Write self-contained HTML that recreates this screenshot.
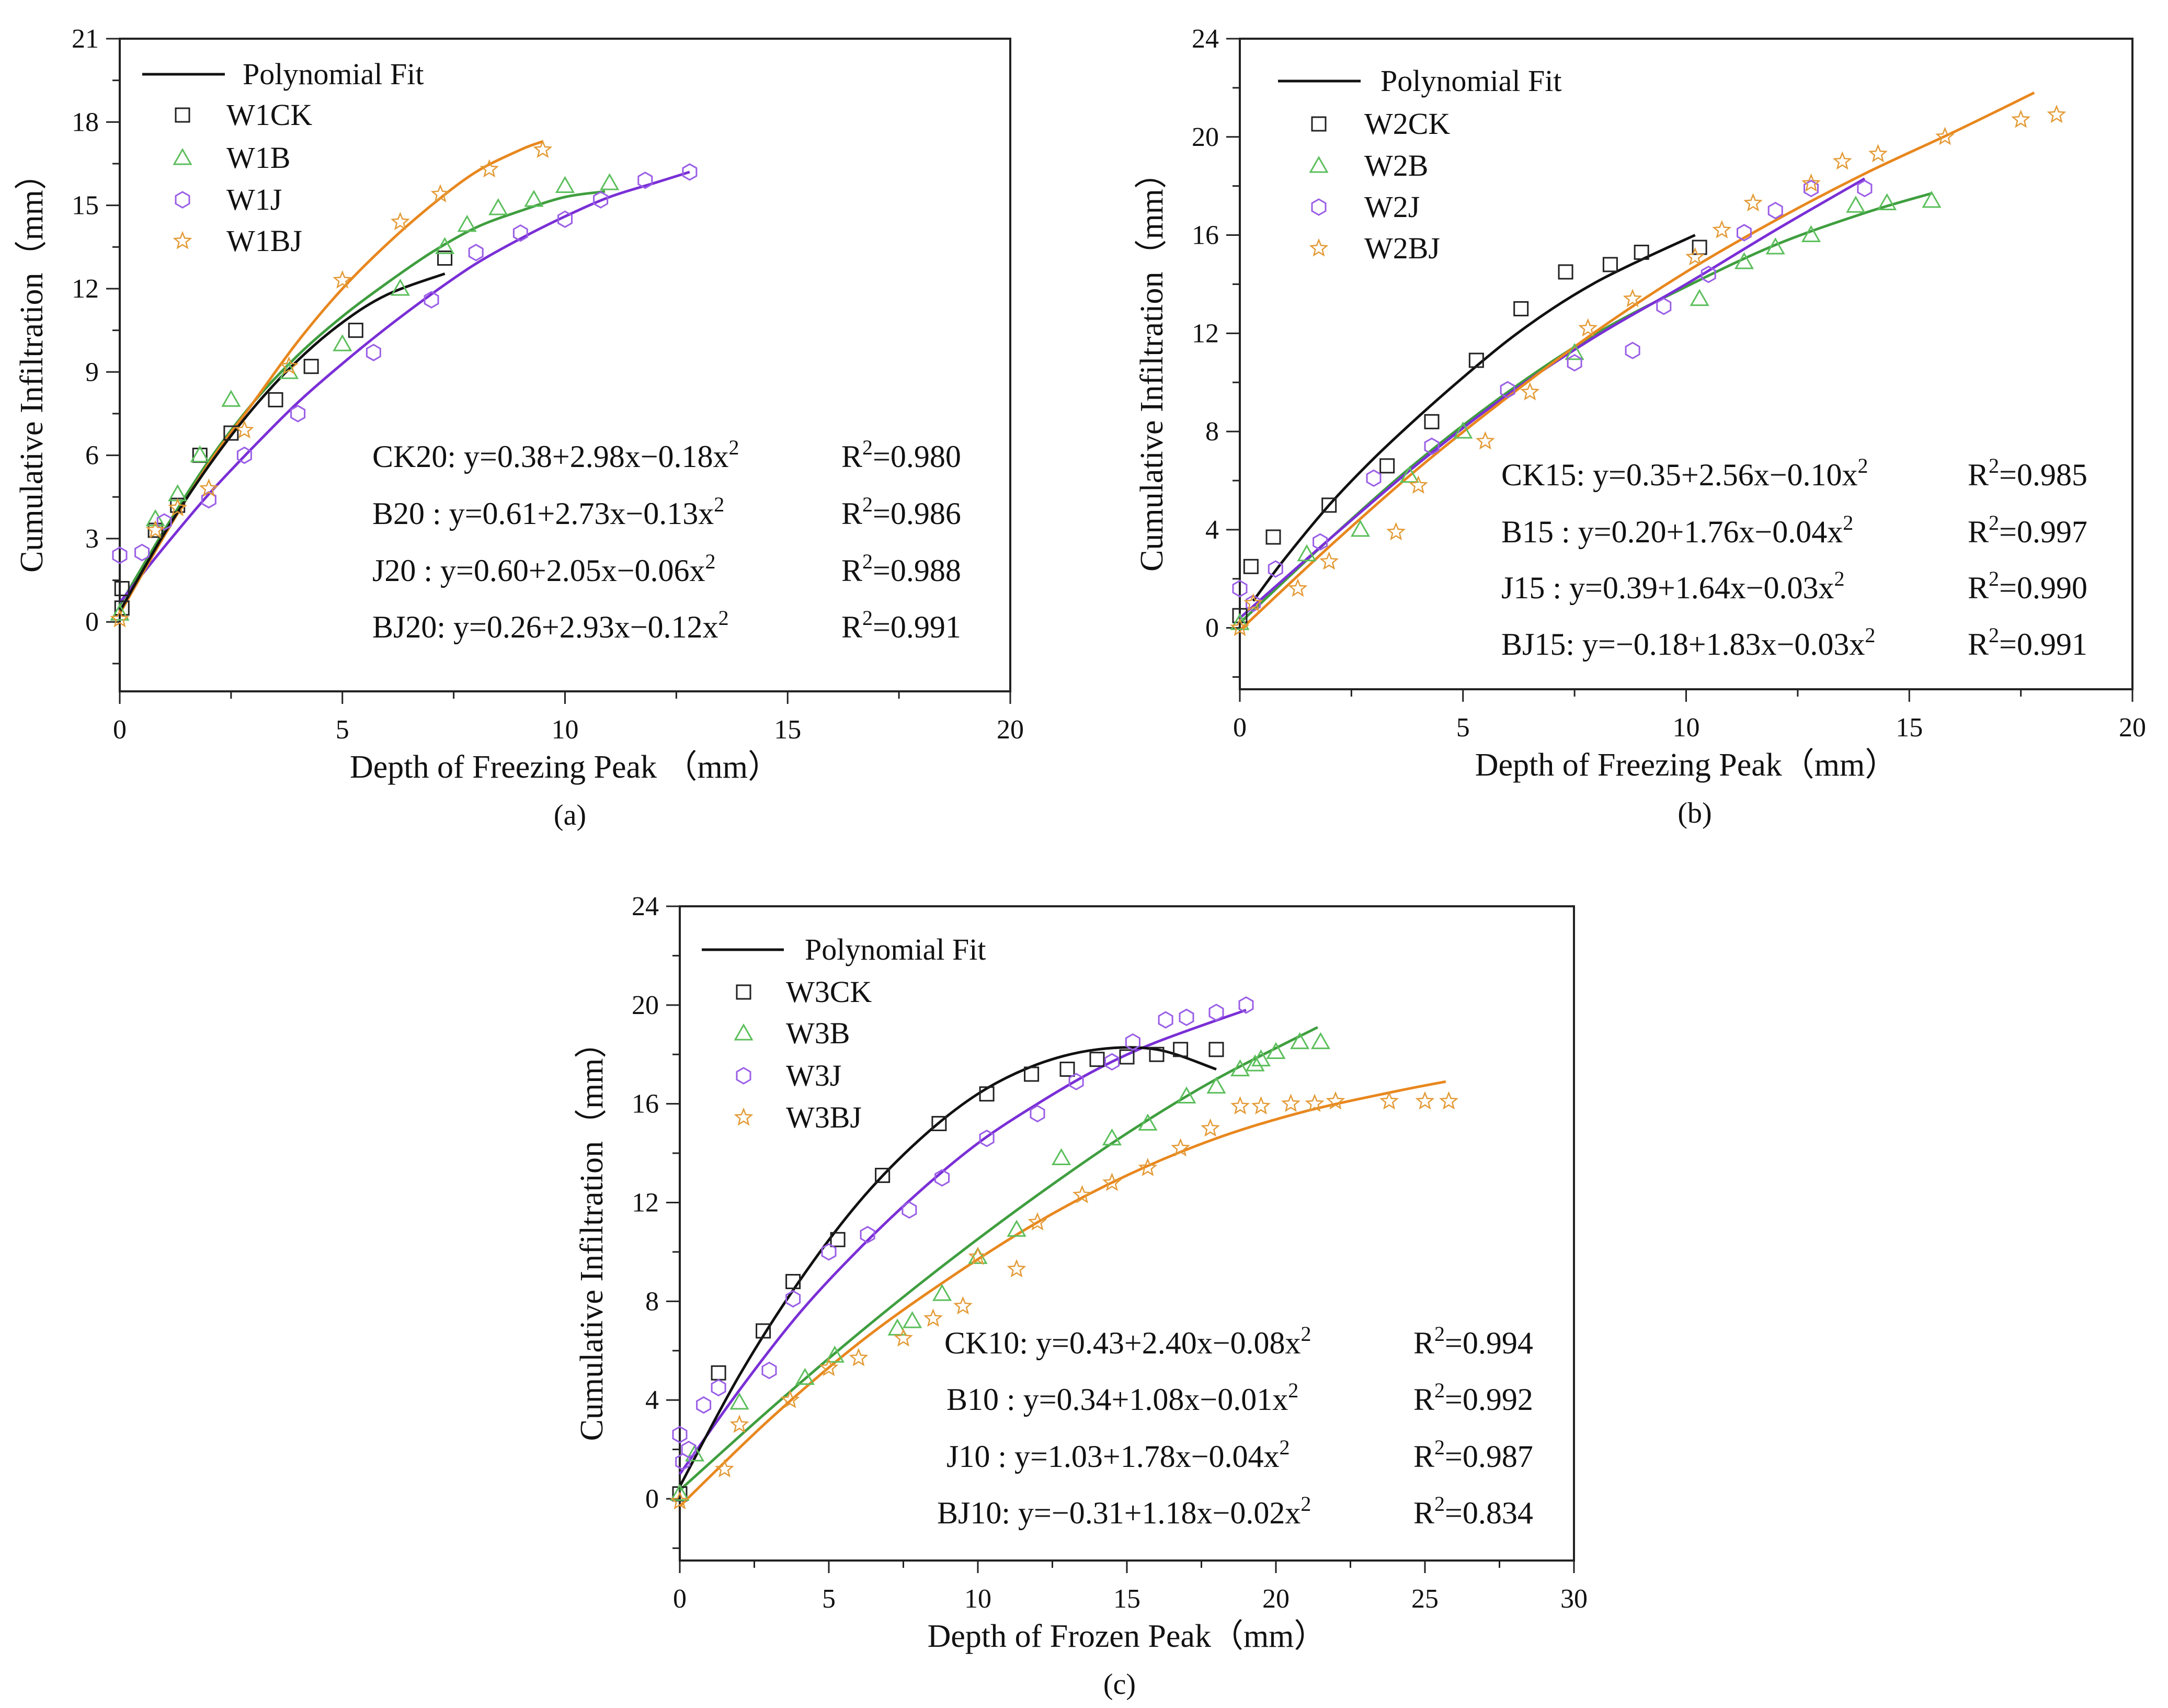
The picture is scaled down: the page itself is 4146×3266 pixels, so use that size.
<!DOCTYPE html>
<html><head><meta charset="utf-8"><style>
html,body{margin:0;padding:0;background:#fff}
svg{display:block}
text{font-family:"Liberation Serif",serif;fill:#111}
</style></head><body>
<svg id="fig" width="4146" height="3266" viewBox="0 0 4146 3266" xmlns="http://www.w3.org/2000/svg">
<rect width="4146" height="3266" fill="#fff"/>
</svg>
<script>
// ===== Panel (a) data =====
const aCK_x=[0.05,0.05,0.8,1.3,1.8,2.5,3.5,4.3,5.3,7.3];
const aCK_y=[0.5,1.2,3.3,4.2,6.0,6.8,8.0,9.2,10.5,13.1];
const aB_x=[0,0.8,1.3,1.8,2.5,3.8,5,6.3,7.3,7.8,8.5,9.3,10,11];
const aB_y=[0.3,3.7,4.6,6.0,8.0,9.0,10.0,12.0,13.5,14.3,14.9,15.2,15.7,15.8];
const aJ_x=[0,0.5,1,2,2.8,4,5.7,7,8,9,10,10.8,11.8,12.8];
const aJ_y=[2.4,2.5,3.6,4.4,6.0,7.5,9.7,11.6,13.3,14.0,14.5,15.2,15.9,16.2];
const aBJ_x=[0,0.8,1.3,2,2.8,3.8,5,6.3,7.2,8.3,9.5];
const aBJ_y=[0.1,3.3,4.1,4.8,6.9,9.2,12.3,14.4,15.4,16.3,17.0];
const aFitCK_x=[0,1,2,3,4,5,6,7.3];
const aFitCK_y=[0.38,3.18,5.62,7.7,9.42,10.78,11.78,12.54];
const aFitB_x=[0,1,2,3,4,5,6,7,8,9,10,10.9];
const aFitB_y=[0.6,3.3,5.8,7.9,9.6,11.0,12.2,13.3,14.2,14.8,15.3,15.5];
const aFitJ_x=[0,1,2,3,4,5,6,7,8,9,10,11,12,12.8];
const aFitJ_y=[0.7,2.7,4.6,6.3,7.9,9.3,10.6,11.8,12.9,13.8,14.6,15.3,15.8,16.2];
const aFitBJ_x=[0,1,2,3,4,5,6,7,8,9,9.5];
const aFitBJ_y=[0.3,3.1,5.7,7.9,10.1,12.0,13.6,15.0,16.2,17.0,17.3];
const aXTicks=[0,5,10,15,20];
const aYTicks=[0,3,6,9,12,15,18,21];
const aLegend=["Polynomial Fit","W1CK","W1B","W1J","W1BJ"];
const aEqs=["CK20: y=0.38+2.98x\u22120.18x","B20 : y=0.61+2.73x\u22120.13x","J20 :  y=0.60+2.05x\u22120.06x","BJ20: y=0.26+2.93x\u22120.12x"];
const aR2=["=0.980","=0.986","=0.988","=0.991"];

// ===== Panel (b) data =====
const bCK_x=[0,0.25,0.75,2,3.3,4.3,5.3,6.3,7.3,8.3,9,10.3];
const bCK_y=[0.5,2.5,3.7,5.0,6.6,8.4,10.9,13.0,14.5,14.8,15.3,15.5];
const bB_x=[0,1.5,2.7,3.8,5,7.5,10.3,11.3,12,12.8,13.8,14.5,15.5];
const bB_y=[0.2,3.0,4.0,6.2,8.0,11.2,13.4,14.9,15.5,16.0,17.2,17.3,17.4];
const bJ_x=[0,0.3,0.8,1.8,3,4.3,6,7.5,8.8,9.5,10.5,11.3,12,12.8,14];
const bJ_y=[1.6,1.0,2.4,3.5,6.1,7.4,9.7,10.8,11.3,13.1,14.4,16.1,17.0,17.9,17.9];
const bBJ_x=[0,0.3,1.3,2,3.5,4,5.5,6.5,7.8,8.8,10.2,10.8,11.5,12.8,13.5,14.3,15.8,17.5,18.3];
const bBJ_y=[0,1.0,1.6,2.7,3.9,5.8,7.6,9.6,12.2,13.4,15.1,16.2,17.3,18.1,19.0,19.3,20.0,20.7,20.9];
const bFitCK_x=[0.3,1,2,3,4,5,6,7,8,9,10.2];
const bFitCK_y=[1.1,2.8,5.0,6.9,8.6,10.2,11.7,13.0,14.1,15.0,16.0];
const bFitB_x=[0,2,4,6,8,10,12,14,15.5];
const bFitB_y=[0.2,3.6,6.8,9.6,12.0,13.9,15.6,16.9,17.7];
const bFitJ_x=[0,2,4,6,8,10,12,14];
const bFitJ_y=[0.4,3.6,6.7,9.5,11.9,14.0,16.2,18.3];
const bFitBJ_x=[0,2,4,6,8,10,12,14,16,17.8];
const bFitBJ_y=[-0.1,3.3,6.5,9.4,12.1,14.5,16.6,18.5,20.2,21.8];
const bXTicks=[0,5,10,15,20];
const bYTicks=[0,4,8,12,16,20,24];
const bLegend=["Polynomial Fit","W2CK","W2B","W2J","W2BJ"];
const bEqs=["CK15: y=0.35+2.56x\u22120.10x","B15 : y=0.20+1.76x\u22120.04x","J15 :  y=0.39+1.64x\u22120.03x","BJ15: y=\u22120.18+1.83x\u22120.03x"];
const bR2=["=0.985","=0.997","=0.990","=0.991"];

// ===== Panel (c) data =====
const cCK_x=[0,1.3,2.8,3.8,5.3,6.8,8.7,10.3,11.8,13,14,15,16,16.8,18];
const cCK_y=[0.2,5.1,6.8,8.8,10.5,13.1,15.2,16.4,17.2,17.4,17.8,17.9,18.0,18.2,18.2];
const cB_x=[0,0.5,2,4.2,5.2,7.3,7.8,8.8,10,11.3,12.8,14.5,15.7,17,18,18.8,19.3,19.5,20,20.8,21.5];
const cB_y=[0.2,1.8,3.9,4.9,5.8,6.9,7.2,8.3,9.8,10.9,13.8,14.6,15.2,16.3,16.7,17.4,17.6,17.8,18.1,18.5,18.5];
const cJ_x=[0,0.1,0.3,0.8,1.3,3,3.8,5,6.3,7.7,8.8,10.3,12,13.3,14.5,15.2,16.3,17,18,19];
const cJ_y=[2.6,1.5,2.0,3.8,4.5,5.2,8.1,10.0,10.7,11.7,13.0,14.6,15.6,16.9,17.7,18.5,19.4,19.5,19.7,20.0];
const cBJ_x=[0,1.5,2,3.7,5,6,7.5,8.5,9.5,10,11.3,12,13.5,14.5,15.7,16.8,17.8,18.8,19.5,20.5,21.3,22,23.8,25,25.8];
const cBJ_y=[-0.1,1.2,3.0,4.0,5.3,5.7,6.5,7.3,7.8,9.8,9.3,11.2,12.3,12.8,13.4,14.2,15.0,15.9,15.9,16.0,16.0,16.1,16.1,16.1,16.1];
const cFitCK_x=[0,2,4,6,8,10,12,14,16,18];
const cFitCK_y=[0.5,5.0,8.8,12.0,14.5,16.4,17.6,18.2,18.2,17.4];
const cFitB_x=[0,3,6,9,12,15,18,21.4];
const cFitB_y=[0.35,3.6,6.7,9.6,12.3,14.8,17.0,19.1];
const cFitJ_x=[0,2,4,6,8,10,12,14,16,19];
const cFitJ_y=[1.0,4.4,7.5,10.1,12.4,14.4,16.0,17.4,18.5,19.8];
const cFitBJ_x=[0,3,6,9,12,15,18,21,24,25.7];
const cFitBJ_y=[-0.3,3.2,6.3,8.9,11.2,13.1,14.6,15.7,16.5,16.9];
const cXTicks=[0,5,10,15,20,25,30];
const cYTicks=[0,4,8,12,16,20,24];
const cLegend=["Polynomial Fit","W3CK","W3B","W3J","W3BJ"];
const cEqs=["CK10: y=0.43+2.40x\u22120.08x","B10 : y=0.34+1.08x\u22120.01x","J10 : y=1.03+1.78x\u22120.04x","BJ10: y=\u22120.31+1.18x\u22120.02x"];
const cR2=["=0.994","=0.992","=0.987","=0.834"];

const NS="http://www.w3.org/2000/svg";
const svg=document.getElementById('fig');
const LINE={ck:"#111",b:"#3f9e3f",j:"#7a2fd6",bj:"#e8871e"};
const MK={ck:"#222",b:"#5cbf5c",j:"#9a5ee6",bj:"#e39a35"};
function mk(tag,attrs,parent){const e=document.createElementNS(NS,tag);for(const k in attrs)e.setAttribute(k,attrs[k]);(parent||svg).appendChild(e);return e;}

function smoothPath(P){
  let d='M'+P[0][0].toFixed(1)+','+P[0][1].toFixed(1);
  for(let i=0;i<P.length-1;i++){
    const p0=P[Math.max(0,i-1)],p1=P[i],p2=P[i+1],p3=P[Math.min(P.length-1,i+2)];
    const c1x=p1[0]+(p2[0]-p0[0])/6,c1y=p1[1]+(p2[1]-p0[1])/6;
    const c2x=p2[0]-(p3[0]-p1[0])/6,c2y=p2[1]-(p3[1]-p1[1])/6;
    d+=` C${c1x.toFixed(1)},${c1y.toFixed(1)} ${c2x.toFixed(1)},${c2y.toFixed(1)} ${p2[0].toFixed(1)},${p2[1].toFixed(1)}`;
  }
  return d;
}

function marker(g,type,cx,cy){
  let e;
  const s=13;
  if(type==='ck'){e=mk('rect',{x:cx-s,y:cy-s,width:2*s,height:2*s,fill:'none',stroke:MK.ck,'stroke-width':3},g);}
  else if(type==='b'){e=mk('polygon',{points:`${cx},${cy-16} ${cx+16},${cy+12} ${cx-16},${cy+12}`,fill:'none',stroke:MK.b,'stroke-width':3},g);}
  else if(type==='j'){let p=[];for(let i=0;i<6;i++){const a=Math.PI/6+i*Math.PI/3;p.push((cx+15*Math.cos(a)).toFixed(1)+','+(cy+15*Math.sin(a)).toFixed(1));}
    e=mk('polygon',{points:p.join(' '),fill:'none',stroke:MK.j,'stroke-width':3},g);}
  else {let p=[];for(let i=0;i<10;i++){const r=i%2?7:16;const a=-Math.PI/2+i*Math.PI/5;p.push((cx+r*Math.cos(a)).toFixed(1)+','+(cy+r*Math.sin(a)).toFixed(1));}
    e=mk('polygon',{points:p.join(' '),fill:'none',stroke:MK.bj,'stroke-width':2.5},g);}
  return e;
}

function panel(cfg){
  const g=mk('g',{});
  
  
  const {L,R,T,B,xmin,xmax,ymin,ymax}=cfg;
  const sx=v=>L+(v-xmin)/(xmax-xmin)*(R-L);
  const sy=v=>B-(v-ymin)/(ymax-ymin)*(B-T);
  const frame=mk('rect',{x:L,y:T,width:R-L,height:B-T,fill:'none',stroke:'#222','stroke-width':4},g);
  
  
  const ystep=cfg.yTicks[1]-cfg.yTicks[0];
  for(let v=Math.ceil(ymin/(ystep/2))*(ystep/2);v<=ymax+1e-9;v+=ystep/2){
    const major=cfg.yTicks.some(t=>Math.abs(t-v)<1e-6);
    mk('line',{x1:L,x2:L-(major?26:14),y1:sy(v),y2:sy(v),stroke:'#222','stroke-width':3},g);
  }
  cfg.yTicks.forEach(v=>{const t=mk('text',{x:L-40,y:sy(v)+17,'text-anchor':'end','font-size':52},g);t.textContent=v;
    
    });
  const xstep=cfg.xTicks[1]-cfg.xTicks[0];
  for(let v=xmin;v<=xmax+1e-9;v+=xstep/2){
    const major=cfg.xTicks.some(t=>Math.abs(t-v)<1e-6);
    mk('line',{x1:sx(v),x2:sx(v),y1:B,y2:B+(major?24:14),stroke:'#222','stroke-width':3},g);
  }
  cfg.xTicks.forEach(v=>{const t=mk('text',{x:sx(v),y:B+90,'text-anchor':'middle','font-size':52},g);t.textContent=v;
    
    });
  const xt=mk('text',{x:(L+R)/2,y:B+165,'text-anchor':'middle','font-size':62},g);xt.textContent=cfg.xTitle;
  
  
  const yc=(T+B)/2;
  const yt=mk('text',{x:L-148,y:yc,'text-anchor':'middle','font-size':62,transform:`rotate(-90 ${L-148} ${yc})`},g);yt.textContent="Cumulative Infiltration（mm）";
  
  
  const pl=mk('text',{x:cfg.labX,y:B+255,'text-anchor':'middle','font-size':56},g);pl.textContent=cfg.letter;
  
  
  ['b','j','bj','ck'].forEach(k=>{
    const fx=cfg.fits[k][0],fy=cfg.fits[k][1];
    const P=fx.map((x,i)=>[sx(x),sy(fy[i])]);
    const p=mk('path',{d:smoothPath(P),fill:'none',stroke:LINE[k],'stroke-width':5,'stroke-linejoin':'round'},g);
    
    
  });
  ['ck','b','j','bj'].forEach(k=>{
    const px=cfg.pts[k][0],py=cfg.pts[k][1];
    px.forEach((x,i)=>{const m=marker(g,k,sx(x),sy(py[i]));
      
      });
  });
  const lg=cfg.leg;
  const ln=mk('line',{x1:lg.lx1,x2:lg.lx2,y1:lg.ys[0],y2:lg.ys[0],stroke:'#111','stroke-width':5},g);
  
  
  const lt0=mk('text',{x:lg.tx0,y:lg.ys[0]+19,'font-size':58},g);lt0.textContent=cfg.legend[0];
  
  
  ['ck','b','j','bj'].forEach((k,i)=>{
    marker(g,k,lg.mx,lg.ys[i+1]);
    const t=mk('text',{x:lg.tx,y:lg.ys[i+1]+19,'font-size':58},g);t.textContent=cfg.legend[i+1];
    
    
  });
  cfg.eqs.forEach((e,i)=>{
    const t=mk('text',{x:cfg.eqX[i],y:cfg.eqY[i]+20,'font-size':60},g);
    
    
    const a=mk('tspan',{},t);a.textContent=e;
    const s=mk('tspan',{dy:-24,'font-size':40},t);s.textContent='2';
    const r=mk('text',{x:cfg.r2X,y:cfg.eqY[i]+20,'font-size':60},g);
    
    
    const r1=mk('tspan',{},r);r1.textContent='R';
    const r2=mk('tspan',{dy:-24,'font-size':40},r);r2.textContent='2';
    const r3=mk('tspan',{dy:24},r);r3.textContent=cfg.r2[i];
  });
}

panel({id:'a',letter:'(a)',L:229,R:1932,T:74,B:1322,xmin:0,xmax:20,ymin:-2.5,ymax:21,labX:1090,
  xTicks:aXTicks,yTicks:aYTicks,xTitle:"Depth of Freezing Peak （mm）",
  fits:{ck:[aFitCK_x,aFitCK_y],b:[aFitB_x,aFitB_y],j:[aFitJ_x,aFitJ_y],bj:[aFitBJ_x,aFitBJ_y]},
  pts:{ck:[aCK_x,aCK_y],b:[aB_x,aB_y],j:[aJ_x,aJ_y],bj:[aBJ_x,aBJ_y]},
  legend:aLegend,leg:{lx1:272,lx2:430,tx0:464,mx:349,tx:433,ys:[142,220,302,382,461]},
  eqs:aEqs,r2:aR2,eqX:[712,712,712,712],eqY:[873,982,1091,1199],r2X:1609});
panel({id:'b',letter:'(b)',L:2371,R:4078,T:74,B:1318,xmin:0,xmax:20,ymin:-2.5,ymax:24,labX:3241,
  xTicks:bXTicks,yTicks:bYTicks,xTitle:"Depth of Freezing Peak（mm）",
  fits:{ck:[bFitCK_x,bFitCK_y],b:[bFitB_x,bFitB_y],j:[bFitJ_x,bFitJ_y],bj:[bFitBJ_x,bFitBJ_y]},
  pts:{ck:[bCK_x,bCK_y],b:[bB_x,bB_y],j:[bJ_x,bJ_y],bj:[bBJ_x,bBJ_y]},
  legend:bLegend,leg:{lx1:2444,lx2:2602,tx0:2640,mx:2522,tx:2609,ys:[155,237,317,396,475]},
  eqs:bEqs,r2:bR2,eqX:[2871,2871,2871,2871],eqY:[908,1017,1124,1232],r2X:3763});
panel({id:'c',letter:'(c)',L:1300,R:3010,T:1733,B:2984,xmin:0,xmax:30,ymin:-2.5,ymax:24,labX:2141,
  xTicks:cXTicks,yTicks:cYTicks,xTitle:"Depth of Frozen Peak（mm）",
  fits:{ck:[cFitCK_x,cFitCK_y],b:[cFitB_x,cFitB_y],j:[cFitJ_x,cFitJ_y],bj:[cFitBJ_x,cFitBJ_y]},
  pts:{ck:[cCK_x,cCK_y],b:[cB_x,cB_y],j:[cJ_x,cJ_y],bj:[cBJ_x,cBJ_y]},
  legend:cLegend,leg:{lx1:1342,lx2:1499,tx0:1539,mx:1422,tx:1503,ys:[1816,1897,1976,2057,2137]},
  eqs:cEqs,r2:cR2,eqX:[1806,1810,1810,1792],eqY:[2568,2676,2785,2893],r2X:2703});
</script>
</body></html>
